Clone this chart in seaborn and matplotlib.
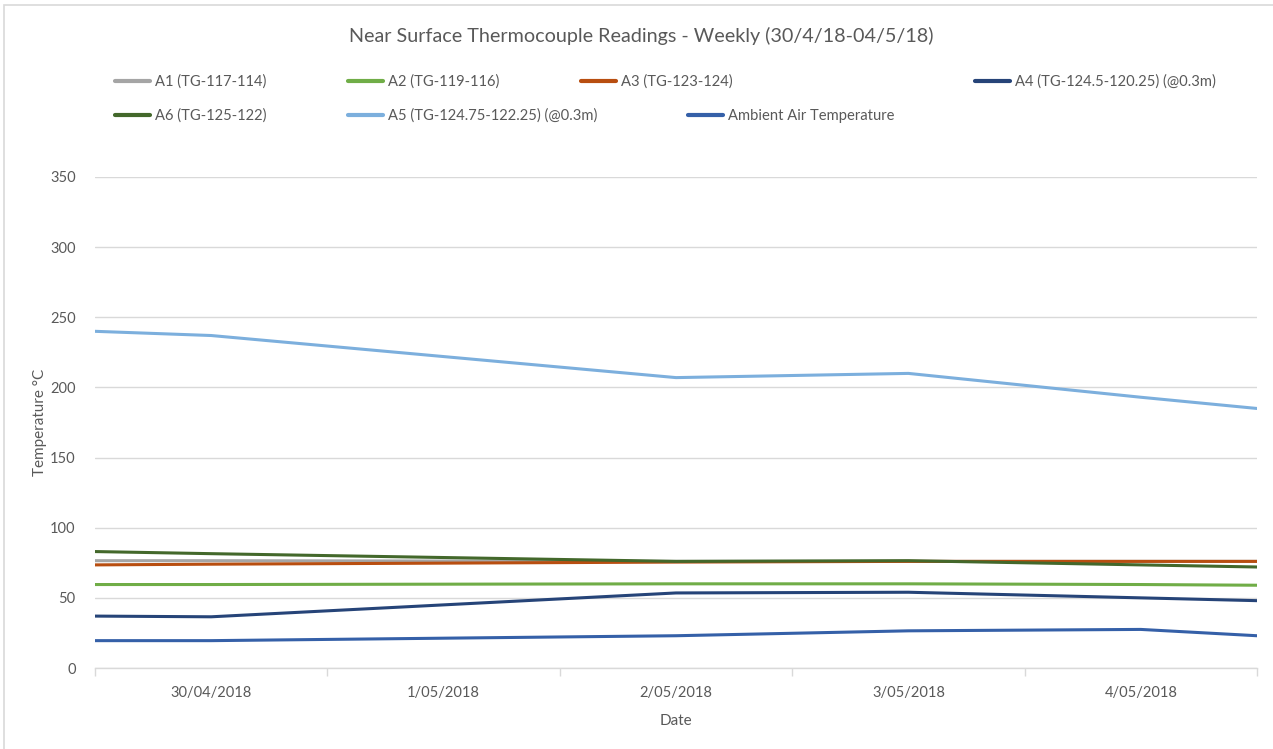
import matplotlib
matplotlib.use("Agg")
import matplotlib.pyplot as plt
import seaborn as sns
import pandas as pd
from matplotlib.patches import Rectangle
from matplotlib.lines import Line2D

# ---- data ----
x_pos = [0.0, 0.5, 2.5, 3.5, 4.5, 5.0]          # position along date axis (days)
day_labels = ["30/04/2018", "1/05/2018", "2/05/2018", "3/05/2018", "4/05/2018"]
a1 = [76.5, 76.5, 76.0, 76.0, 76.0, 76.0]
a2 = [59.5, 59.5, 60.0, 60.0, 59.5, 59.0]
a3 = [73.5, 74.0, 75.5, 76.0, 76.0, 76.0]
a4 = [37.0, 36.5, 53.5, 54.0, 50.0, 48.0]
a6 = [83.0, 81.5, 76.0, 76.5, 73.5, 72.0]
a5 = [240.0, 237.0, 207.0, 210.0, 193.0, 185.0]
ambient = [19.5, 19.5, 23.0, 26.5, 27.5, 23.0]

names = ["A1 (TG-117-114)", "A2 (TG-119-116)", "A3 (TG-123-124)",
         "A4 (TG-124.5-120.25) (@0.3m)", "A6 (TG-125-122)",
         "A5 (TG-124.75-122.25) (@0.3m)", "Ambient Air Temperature"]
series = [a1, a2, a3, a4, a6, a5, ambient]
colors = ["#A5A5A5", "#70AD47", "#B84E10", "#264478", "#43682B", "#7CAFDD", "#3560A8"]

rows = []
for n, s in zip(names, series):
    for xv, yv in zip(x_pos, s):
        rows.append({"x": xv, "Temperature": yv, "Series": n})
df = pd.DataFrame(rows)

sns.set_theme(style="white")
plt.rcParams["font.family"] = ["Lato", "DejaVu Sans"]
TXT = "#595959"

fig = plt.figure(figsize=(12.73, 7.49), dpi=100)
ax = fig.add_axes([95 / 1273, 1 - 668 / 749, (1257 - 95) / 1273, (668 - 177) / 749])

sns.lineplot(data=df, x="x", y="Temperature", hue="Series", hue_order=names,
             palette=dict(zip(names, colors)), linewidth=2.2, ax=ax,
             legend=False, sort=False)

ax.set_xlim(0, 5)
ax.set_ylim(0, 350)
ax.set_yticks(range(0, 351, 50))
ax.yaxis.grid(True, color="#D9D9D9", linewidth=1)
ax.set_axisbelow(True)
ax.set_xticks(range(0, 6))
ax.set_xticklabels([])
ax.set_xticks([i + 0.5 for i in range(5)], minor=True)
ax.set_xticklabels(day_labels, minor=True)
ax.tick_params(axis="x", which="major", length=6, width=1, color="#D9D9D9", direction="out", bottom=True)
ax.tick_params(axis="x", which="minor", length=0, labelsize=10.5, labelcolor=TXT, pad=13)
ax.tick_params(axis="y", length=0, labelsize=10.5, labelcolor=TXT, pad=14)
for sp in ["top", "right", "left"]:
    ax.spines[sp].set_visible(False)
ax.spines["bottom"].set_color("#D9D9D9")
ax.spines["bottom"].set_linewidth(1)

ax.set_xlabel("Date", fontsize=11, color=TXT, labelpad=10)
ax.set_ylabel("Temperature °C", fontsize=11, color=TXT, labelpad=8)
ax.yaxis.set_label_coords(-48 / 1162, 0.5)

fig.text(641 / 1273, 1 - 36 / 749, "Near Surface Thermocouple Readings - Weekly (30/4/18-04/5/18)",
         ha="center", va="center", fontsize=14.2, color=TXT)

# legend items placed like the reference's flow layout
leg_pos = {
    "A1 (TG-117-114)": (115, 82), "A2 (TG-119-116)": (348, 82),
    "A3 (TG-123-124)": (581, 82), "A4 (TG-124.5-120.25) (@0.3m)": (975, 82),
    "A6 (TG-125-122)": (115, 116), "A5 (TG-124.75-122.25) (@0.3m)": (348, 116),
    "Ambient Air Temperature": (688, 116),
}
for n, c in zip(names, colors):
    px, py = leg_pos[n]
    h = Line2D([], [], color=c, linewidth=3)
    fig.legend([h], [n], loc="center left", bbox_to_anchor=(px / 1273, 1 - py / 749),
               frameon=False, fontsize=10.6, labelcolor=TXT, handlelength=2.4,
               handletextpad=0.3, borderpad=0, borderaxespad=0)

# chart area border (top and left visible)
fig.patches.append(Rectangle((4 / 1273, -0.05), 1.1, 1 - 5 / 749 + 0.05,
                             transform=fig.transFigure, fill=False,
                             edgecolor="#D9D9D9", linewidth=1.2))

fig.savefig("out.png", dpi=100, facecolor="white")
